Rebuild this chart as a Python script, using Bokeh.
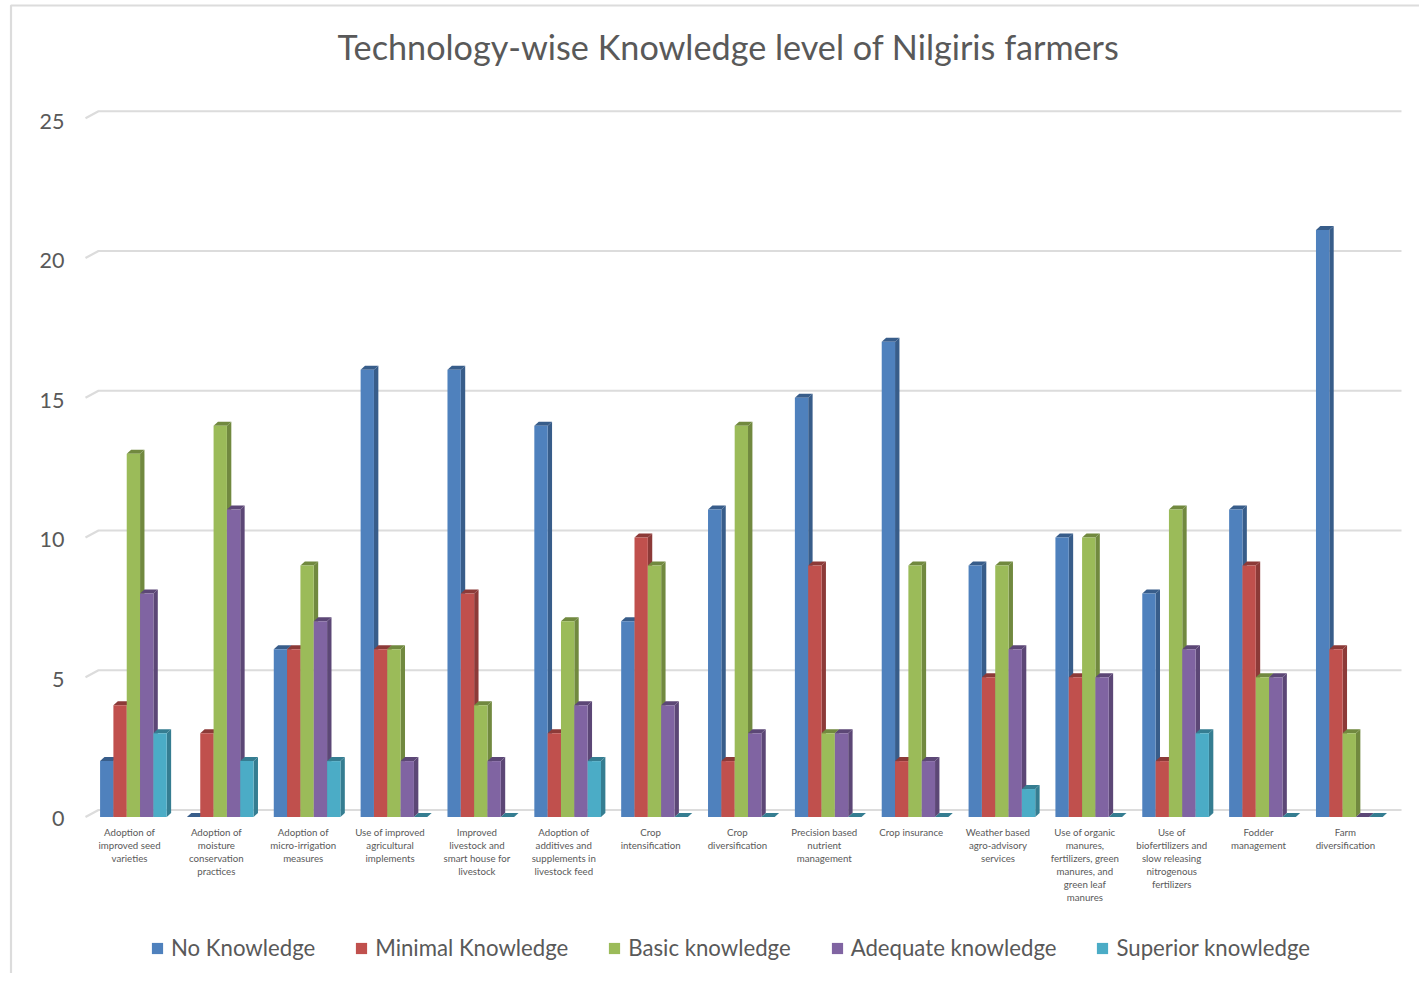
from bokeh.plotting import figure
from bokeh.models import Range1d, FixedTicker, Legend, LegendItem, LinearAxis, Label
from bokeh.embed import file_html
from bokeh.resources import INLINE

title_text = "Technology-wise Knowledge level of Nilgiris farmers"
categories = [
    "Adoption of\nimproved seed\nvarieties",
    "Adoption of\nmoisture\nconservation\npractices",
    "Adoption of\nmicro-irrigation\nmeasures",
    "Use of improved\nagricultural\nimplements",
    "Improved\nlivestock and\nsmart house for\nlivestock",
    "Adoption of\nadditives and\nsupplements in\nlivestock feed",
    "Crop\nintensification",
    "Crop\ndiversification",
    "Precision based\nnutrient\nmanagement",
    "Crop insurance",
    "Weather based\nagro-advisory\nservices",
    "Use of organic\nmanures,\nfertilizers, green\nmanures, and\ngreen leaf\nmanures",
    "Use of\nbiofertilizers and\nslow releasing\nnitrogenous\nfertilizers",
    "Fodder\nmanagement",
    "Farm\ndiversification",
]
no_knowledge = [2, 0, 6, 16, 16, 14, 7, 11, 15, 17, 9, 10, 8, 11, 21]
minimal_knowledge = [4, 3, 6, 6, 8, 3, 10, 2, 9, 2, 5, 5, 2, 9, 6]
basic_knowledge = [13, 14, 9, 6, 4, 7, 9, 14, 3, 9, 9, 10, 11, 5, 3]
adequate_knowledge = [8, 11, 7, 2, 2, 4, 4, 3, 3, 2, 6, 5, 6, 5, 0]
superior_knowledge = [3, 2, 2, 0, 0, 2, 0, 0, 0, 0, 1, 0, 3, 0, 0]
y_ticks = [0, 5, 10, 15, 20, 25]

series = [
    ("No Knowledge", no_knowledge, "#4F81BD", "#385D8A"),
    ("Minimal Knowledge", minimal_knowledge, "#C0504D", "#8C3A38"),
    ("Basic knowledge", basic_knowledge, "#9BBB59", "#71893F"),
    ("Adequate knowledge", adequate_knowledge, "#8064A2", "#5C4776"),
    ("Superior knowledge", superior_knowledge, "#4BACC6", "#357D91"),
]

# layout: the canvas is photographed from the window's top-left corner
W, H = 1419, 973
PX_X, PX_Y = 86.85, 27.95
X0_PAGE, Y0_PAGE = 129.0, 816.5


def dx(page_x):
    return (page_x - X0_PAGE) / PX_X


def dy(page_y):
    return (Y0_PAGE - page_y) / PX_Y


x_range = Range1d(dx(0), dx(W))
y_range = Range1d(dy(H), dy(0))

# tick labels sit on a slightly different perspective scale than the bars
LABEL_PX = (818 - 121) / 25
label_range = Range1d((818 - H) / LABEL_PX, 818 / LABEL_PX)

p = figure(width=W, height=H, x_range=x_range, y_range=y_range,
           output_backend="svg", toolbar_location=None, min_border=0,
           x_axis_type=None, y_axis_type=None)
p.extra_y_ranges = {"labels": label_range}
p.outline_line_color = None
p.background_fill_color = "white"
p.border_fill_color = "white"

GRID = "#DCDCDC"
wall_dx, wall_dy = 13 / PX_X, 7 / PX_Y
grid_left = dx(85)
grid_right = dx(1401)
xs, ys = [], []
for t in y_ticks:
    xs.append([grid_left, grid_left + wall_dx, grid_right])
    ys.append([t, t + wall_dy, t + wall_dy])
p.multi_line(xs, ys, line_color=GRID, line_width=2.2)
p.line([dx(10.5), dx(10.5), dx(W)], [dy(H), dy(5), dy(5)], line_color=GRID, line_width=2.2)

bar_w = 13.33 / PX_X
bar_shift = 3.9 / PX_X
depth_x, depth_y = 4.4 / PX_X, 4.0 / PX_Y
items = []
for s, (name, values, face, dark) in enumerate(series):
    left = [i + bar_shift + (s - 2.5) * bar_w for i in range(len(values))]
    right = [l + bar_w for l in left]
    side_xs = [[r, r + depth_x, r + depth_x, r] for r in right]
    side_ys = [[0, depth_y, v + depth_y, v] for v in values]
    top_xs = [[l, l + depth_x, r + depth_x, r] for l, r in zip(left, right)]
    top_ys = [[v, v + depth_y, v + depth_y, v] for v in values]
    p.patches(side_xs, side_ys, fill_color=dark, line_color=None)
    p.patches(top_xs, top_ys, fill_color=dark, line_color=None)
    q = p.quad(left=left, right=right, bottom=0, top=values, fill_color=face, line_color=None)
    items.append(LegendItem(label=name, renderers=[q]))

xaxis = LinearAxis(ticker=FixedTicker(ticks=list(range(len(categories)))),
                   major_label_overrides={i: c for i, c in enumerate(categories)},
                   fixed_location=0)
xaxis.axis_line_color = None
xaxis.major_tick_line_color = None
xaxis.minor_tick_line_color = None
xaxis.major_label_standoff = 3
xaxis.major_label_text_font = "Lato"
xaxis.major_label_text_font_size = "9.7px"
xaxis.major_label_text_color = "#595959"
xaxis.major_label_text_line_height = 1.08
xaxis.major_label_orientation = "horizontal"
p.add_layout(xaxis, "below")

yaxis = LinearAxis(ticker=FixedTicker(ticks=y_ticks), fixed_location=dx(74),
                   y_range_name="labels")
yaxis.axis_line_color = None
yaxis.major_tick_line_color = None
yaxis.minor_tick_line_color = None
yaxis.major_label_standoff = 4
yaxis.major_label_text_font = "Lato"
yaxis.major_label_text_font_size = "21.5px"
yaxis.major_label_text_color = "#595959"
p.add_layout(yaxis, "left")

legend = Legend(items=items, orientation="horizontal", location=(150, 12),
                background_fill_alpha=0, border_line_color=None, padding=0, margin=0,
                glyph_width=14, glyph_height=14, label_standoff=7, spacing=39,
                label_text_font="Lato", label_text_font_size="22.2px",
                label_text_color="#595959")
p.add_layout(legend, "center")

p.add_layout(Label(x=dx(728), y=dy(46), text=title_text, text_align="center",
                   text_baseline="middle", text_font="Lato", text_font_size="34.2px",
                   text_color="#595959"), "center")

open("out.html", "w").write(file_html(p, INLINE))
